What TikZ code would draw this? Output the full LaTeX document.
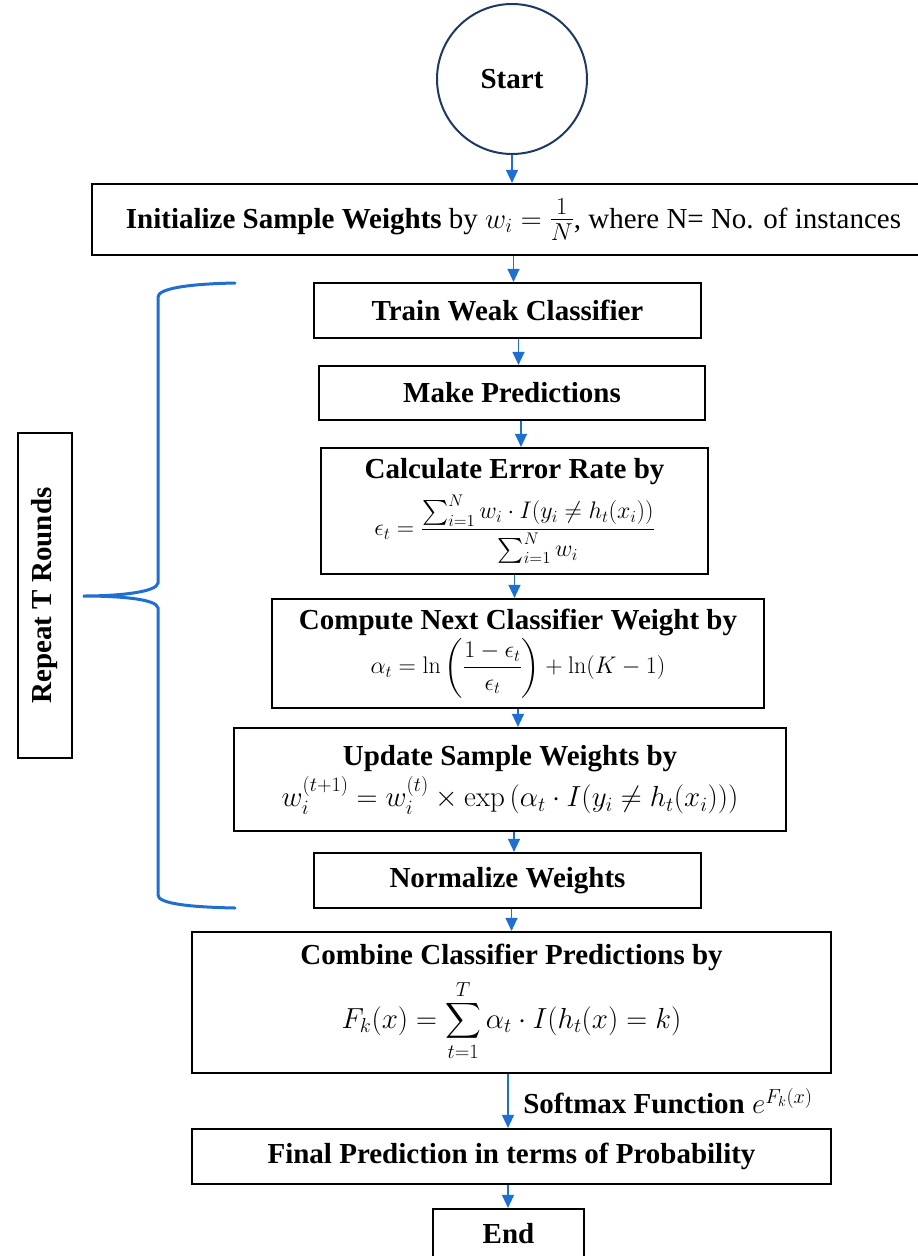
\RequirePackage{fix-cm}
\documentclass[tikz,border=0pt]{standalone}
\usepackage{amsmath}
\usepackage[no-math]{fontspec}
\setmainfont{Liberation Serif}
\usetikzlibrary{arrows.meta}
\definecolor{flowblue}{RGB}{31,110,210}
\definecolor{navy}{RGB}{31,56,100}

\begin{document}
\begin{tikzpicture}[x=1pt,y=-1pt,
  box/.style={draw=black,line width=2.2pt,align=center,inner sep=0pt,font=\bfseries},
  flow/.style={draw=flowblue,line width=1.3pt,-{Triangle[length=13pt,width=12pt]}},
  brace/.style={draw=flowblue,line width=3pt,line cap=round}]
\useasboundingbox (0,0) rectangle (918,1256);
\fontsize{29}{33}\selectfont

%start
\node[draw=navy,circle,line width=2pt,minimum size=150pt,inner sep=0pt,font=\bfseries] (start) at (512,79) {Start};

%init
\node[box,font=\mdseries,minimum width=843pt,minimum height=71pt] (init) at (513.5,219.5)
  {\textbf{Initialize Sample Weights} by $w_i = {}${\fontsize{35}{39}\selectfont$\frac{1}{N}$}, where N= No. of instances};

%loop body
\node[box,minimum width=387pt,minimum height=55pt] (train) at (507.5,310.5) {Train Weak Classifier};
\node[box,minimum width=386pt,minimum height=54pt] (make) at (512,393) {Make Predictions};
\node[box,minimum width=387pt,minimum height=126pt] (calc) at (514.5,511)
  {Calculate Error Rate by\\[10pt]
   {\fontsize{24}{28}\selectfont$\displaystyle\epsilon_t=\frac{\sum_{i=1}^{N} w_i\cdot I(y_i\neq h_t(x_i))}{\sum_{i=1}^{N} w_i}$}};
\node[box,minimum width=492pt,minimum height=109pt] (comp) at (518,653.5)
  {Compute Next Classifier Weight by\\[1pt]
   {\fontsize{24}{28}\selectfont$\displaystyle\alpha_t=\ln\left(\frac{1-\epsilon_t}{\epsilon_t}\right)+\ln(K-1)$}};
\node[box,minimum width=552pt,minimum height=103pt] (upd) at (510,779.5)
  {Update Sample Weights by\\[4pt]
   {\fontsize{29}{33}\selectfont$w_i^{(t+1)}=w_i^{(t)}\times\exp\left(\alpha_t\cdot I(y_i\neq h_t(x_i))\right)$}};
\node[box,minimum width=387pt,minimum height=55pt] (norm) at (507.5,880.5) {Normalize Weights};

%combine and output
\node[box,minimum width=639pt,minimum height=141pt] (comb) at (511.5,1002.5)
  {Combine Classifier Predictions by\\[8pt]
   {\fontsize{29}{33}\selectfont$\displaystyle F_k(x)=\sum_{t=1}^{T}\alpha_t\cdot I(h_t(x)=k)$}};
\node[box,minimum width=639pt,minimum height=55pt] (final) at (511.5,1156.5) {Final Prediction in terms of Probability};
\node[box,minimum width=151pt,minimum height=50pt] (end) at (508.5,1234) {End};

%repeat
\node[box,rotate=90,minimum width=325pt,minimum height=54pt] (rep) at (45,595.5) {Repeat T Rounds};
\draw[brace] (235,283) .. controls (185,284) and (158,289) .. (158,297) -- (158,583)
  .. controls (157,592) and (120,596) .. (83,596)
  .. controls (120,596) and (157,599) .. (158,608) -- (158,895)
  .. controls (158,903) and (185,907) .. (235,908);

%arrows
\draw[flow] (start) -- (start |- init.north);
\draw[flow] (init) -- (init |- train.north);
\draw[flow] ([xshift=11pt]train.south) -- ([xshift=11pt]train.south |- make.north);
\draw[flow] ([xshift=9pt]make.south) -- ([xshift=9pt]make.south |- calc.north);
\draw[flow] (calc.south) -- (calc.south |- comp.north);
\draw[flow] (comp.south) -- (comp.south |- upd.north);
\draw[flow] ([xshift=4pt]upd.south) -- ([xshift=4pt]upd.south |- norm.north);
\draw[flow] ([xshift=4pt]norm.south) -- ([xshift=4pt]norm.south |- comb.north);
\draw[flow] ([xshift=-3.5pt]comb.south) -- ([xshift=-3.5pt]comb.south |- final.north)
  node[midway,right=5pt,font=\bfseries\fontsize{29}{33}\selectfont] (soft) {Softmax Function $e^{F_k(x)}$};
\draw[flow] ([xshift=-3.5pt]final.south) -- ([xshift=-3.5pt]final.south |- end.north);
\end{tikzpicture}
\end{document}
